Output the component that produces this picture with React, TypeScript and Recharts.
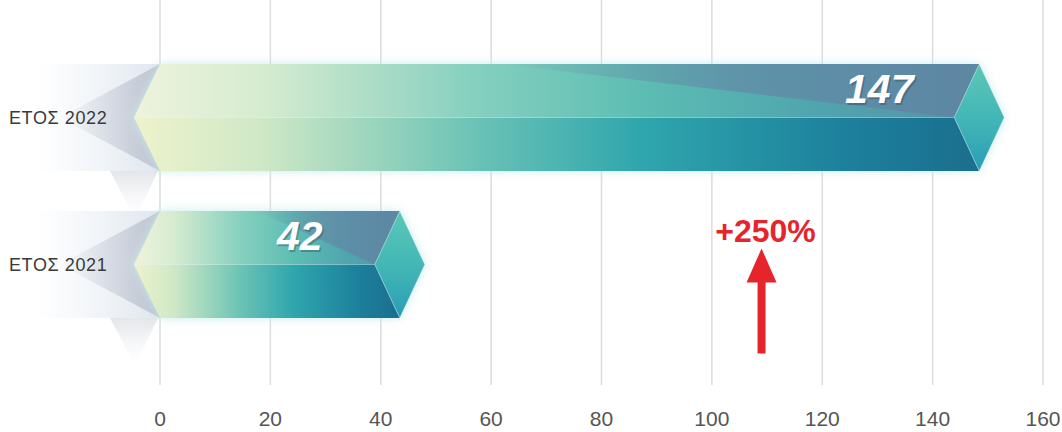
import { Bar, BarChart, CartesianGrid, LabelList, ReferenceDot, XAxis, YAxis } from 'recharts';

const years = ['ΕΤΟΣ 2022', 'ΕΤΟΣ 2021'];
const counts = [147, 42];
const xTicks = [0, 20, 40, 60, 80, 100, 120, 140, 160];
const growthLabel = '+250%';
const growthAt = 109;

const data = years.map((year, i) => ({ year, value: counts[i] }));

// 3d hexagonal prism bar with a soft shadow on the left
function PrismBar(props: any) {
  const { x, y, width, height } = props;
  const xe = x + width;
  const ym = y + height / 2;
  const yb = y + height;
  const tip = x - 26;
  const ridge = xe - 17;
  const corner = xe + 8;
  const end = xe + 33;
  const hex = `${tip},${ym} ${x},${y} ${corner},${y} ${end},${ym} ${corner},${yb} ${x},${yb}`;
  return (
    <g>
      <polygon points={`${x - 125},${y} ${x},${y} ${tip},${ym} ${x},${yb} ${x - 125},${yb}`} fill="url(#leftFade)" />
      <polygon points={`${x},${y} ${x - 100},${ym} ${x},${yb}`} fill="url(#leftWedge)" />
      <polygon points={`${x - 50},${yb} ${x - 2},${yb} ${x - 25},${yb + 48}`} fill="url(#downWedge)" />
      <polygon points={hex} fill="#c6ecec" filter="url(#glow)" />
      <polygon points={`${tip},${ym} ${x},${y} ${corner},${y} ${ridge},${ym}`} fill="url(#topFace)" />
      <polygon points={`${x + width * 0.42},${y} ${corner},${y} ${ridge},${ym}`} fill="url(#slate)" />
      <polygon points={`${tip},${ym} ${ridge},${ym} ${corner},${yb} ${x},${yb}`} fill="url(#bottomFace)" />
      <polygon points={`${ridge},${ym} ${corner},${y} ${end},${ym} ${corner},${yb}`} fill="url(#capFace)" stroke="rgba(255,255,255,0.35)" strokeWidth={1} />
      <line x1={tip} y1={ym} x2={ridge} y2={ym} stroke="rgba(255,255,255,0.25)" strokeWidth={1} />
    </g>
  );
}

function ValueLabel(props: any) {
  const { x, y, width, value } = props;
  const cx = x + width - 92;
  const by = y + 39;
  return (
    <g fontFamily="Liberation Sans, Arial, sans-serif" fontWeight="bold" fontStyle="italic" fontSize={41} textAnchor="middle">
      <text x={cx + 1.5} y={by + 1.5} fill="rgba(40,60,70,0.35)">{value}</text>
      <text x={cx} y={by} fill="#ffffff">{value}</text>
    </g>
  );
}

function YearTick(props: any) {
  const { y, payload } = props;
  return (
    <text x={9} y={y} dy="0.36em" fill="#3a3a3a" fontSize={18} letterSpacing={0.6} fontFamily="Liberation Sans, Arial, sans-serif">
      {payload.value}
    </text>
  );
}

function GrowthMark(props: any) {
  const { cx, cy } = props;
  return (
    <g>
      <text x={cx + 4} y={cy - 23} textAnchor="middle" fill="#e5252b" fontSize={32} fontWeight="bold" fontFamily="Liberation Sans, Arial, sans-serif">
        {growthLabel}
      </text>
      <polygon points={`${cx},${cy - 16} ${cx - 15},${cy + 18} ${cx + 15},${cy + 18}`} fill="#e5252b" />
      <rect x={cx - 4} y={cy + 16} width={8} height={73} fill="#e5252b" />
    </g>
  );
}

export default function App() {
  return (
    <div style={{ position: 'absolute', left: 0, top: 0, width: 1062, height: 432, background: '#fff' }}>
      <BarChart layout="vertical" width={1062} height={432} data={data} margin={{ top: 0, right: 19, left: 0, bottom: 0 }}>
        <defs>
          <linearGradient id="topFace" x1="0" y1="0" x2="1" y2="0">
            <stop offset="0" stopColor="#eef3dc" />
            <stop offset="0.15" stopColor="#d6ecd0" />
            <stop offset="0.4" stopColor="#86d0bf" />
            <stop offset="0.6" stopColor="#5dbdb3" />
            <stop offset="0.8" stopColor="#4fa6ae" />
            <stop offset="1" stopColor="#5a90a8" />
          </linearGradient>
          <linearGradient id="slate" x1="0" y1="0" x2="1" y2="0">
            <stop offset="0" stopColor="#6488a6" stopOpacity={0} />
            <stop offset="0.5" stopColor="#6488a6" stopOpacity={0.7} />
            <stop offset="1" stopColor="#5d86a3" stopOpacity={0.9} />
          </linearGradient>
          <linearGradient id="bottomFace" x1="0" y1="0" x2="1" y2="0">
            <stop offset="0" stopColor="#eef2cc" />
            <stop offset="0.15" stopColor="#cfe8c6" />
            <stop offset="0.4" stopColor="#6cc3b6" />
            <stop offset="0.6" stopColor="#2fa6ad" />
            <stop offset="0.85" stopColor="#1c7f9c" />
            <stop offset="1" stopColor="#1b6e8e" />
          </linearGradient>
          <linearGradient id="capFace" x1="0" y1="0" x2="0" y2="1">
            <stop offset="0" stopColor="#5cc7b8" />
            <stop offset="0.5" stopColor="#43b7b6" />
            <stop offset="1" stopColor="#2a9db5" />
          </linearGradient>
          <linearGradient id="leftFade" x1="0" y1="0" x2="1" y2="0">
            <stop offset="0" stopColor="#e8eef4" stopOpacity={0} />
            <stop offset="1" stopColor="#dfe6ee" stopOpacity={1} />
          </linearGradient>
          <linearGradient id="leftWedge" x1="0" y1="0" x2="1" y2="0">
            <stop offset="0" stopColor="#b4bac8" stopOpacity={0} />
            <stop offset="1" stopColor="#b4bac8" stopOpacity={0.8} />
          </linearGradient>
          <linearGradient id="downWedge" x1="0" y1="0" x2="0" y2="1">
            <stop offset="0" stopColor="#d2d5db" stopOpacity={0.6} />
            <stop offset="1" stopColor="#eceef1" stopOpacity={0} />
          </linearGradient>
          <filter id="glow" x="-10%" y="-30%" width="120%" height="160%">
            <feGaussianBlur stdDeviation="5" />
          </filter>
        </defs>
        <CartesianGrid horizontal={false} stroke="#dcdcdc" strokeWidth={1.5} />
        <XAxis
          type="number"
          domain={[0, 160]}
          ticks={xTicks}
          height={47}
          axisLine={false}
          tickLine={false}
          tickSize={0}
          tickMargin={26}
          tick={{ fill: '#555', fontSize: 21, fontFamily: 'Liberation Sans Narrow, Liberation Sans, Arial, sans-serif' }}
        />
        <YAxis
          type="category"
          dataKey="year"
          width={160}
          padding={{ top: 44, bottom: 47 }}
          axisLine={false}
          tickLine={false}
          tick={<YearTick />}
        />
        <Bar dataKey="value" barSize={107} shape={<PrismBar />} isAnimationActive={false}>
          <LabelList dataKey="value" content={<ValueLabel />} />
        </Bar>
        <ReferenceDot x={growthAt} y={years[1]} r={0} shape={<GrowthMark />} />
      </BarChart>
    </div>
  );
}
